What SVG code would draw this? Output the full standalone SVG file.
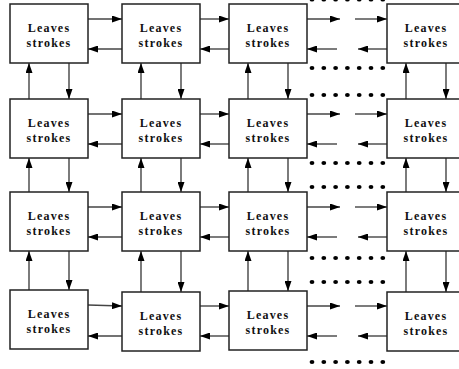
<svg xmlns="http://www.w3.org/2000/svg" width="459" height="369" viewBox="0 0 459 369">
<defs>
<style>
.box rect{fill:#fff;stroke:#222;stroke-width:1.5}
.box text{font-family:"Liberation Serif","Times New Roman",serif;font-weight:bold;font-size:12px;letter-spacing:1.2px;text-anchor:middle;fill:#111}
.conn path{stroke:#444;stroke-width:1.4;fill:none;marker-end:url(#ah)}
.dots ellipse{fill:#000}
</style>
<marker id="ah" markerUnits="userSpaceOnUse" markerWidth="10" markerHeight="7" refX="10" refY="3.5" orient="auto">
<path d="M0,0 L10,3.5 L0,7 z" fill="#000"/>
</marker>
</defs>
<rect width="459" height="369" fill="#fff"/>
<g class="conn" id="connectors">
<path d="M88,19 H122"/><path d="M122,49 H88"/>
<path d="M200,19 H229"/><path d="M229,49 H200"/>
<path d="M307,19 H340"/><path d="M355,19 H387"/><path d="M337,49 H307"/><path d="M387,49 H358"/>
<path d="M88,114 H122"/><path d="M122,144 H88"/>
<path d="M200,114 H229"/><path d="M229,144 H200"/>
<path d="M307,114 H340"/><path d="M355,114 H387"/><path d="M337,144 H307"/><path d="M387,144 H358"/>
<path d="M88,207 H122"/><path d="M122,237 H88"/>
<path d="M200,207 H229"/><path d="M229,237 H200"/>
<path d="M307,207 H340"/><path d="M355,207 H387"/><path d="M337,237 H307"/><path d="M387,237 H358"/>
<path d="M88,305 L122,306"/><path d="M122,336 H88"/>
<path d="M200,306 H229"/><path d="M229,336 H200"/>
<path d="M307,306 H340"/><path d="M355,306 H387"/><path d="M337,336 H307"/><path d="M387,336 H358"/>
<path d="M29,99 V63"/><path d="M69,63 V99"/>
<path d="M141,99 V63"/><path d="M181,63 V99"/>
<path d="M248,99 V63"/><path d="M288,63 V99"/>
<path d="M406,99 V63"/><path d="M446,63 V99"/>
<path d="M29,192 V158"/><path d="M69,158 V192"/>
<path d="M141,192 V158"/><path d="M181,158 V192"/>
<path d="M248,192 V158"/><path d="M288,158 V192"/>
<path d="M406,192 V158"/><path d="M446,158 V192"/>
<path d="M29,290 V251"/><path d="M69,251 V290"/>
<path d="M141,292 V251"/><path d="M181,251 V292"/>
<path d="M248,291 V251"/><path d="M288,251 V291"/>
<path d="M406,292 V251"/><path d="M446,251 V292"/>
</g>
<g class="dots" id="dots">
<g id="d0" transform="translate(0,-0.5)"><ellipse cx="312" cy="0" rx="2.4" ry="2"/><ellipse cx="323.8" cy="0" rx="2.4" ry="2"/><ellipse cx="335.6" cy="0" rx="2.4" ry="2"/><ellipse cx="347.4" cy="0" rx="2.4" ry="2"/><ellipse cx="359.2" cy="0" rx="2.4" ry="2"/><ellipse cx="371" cy="0" rx="2.4" ry="2"/><ellipse cx="382.8" cy="0" rx="2.4" ry="2"/></g>
<use href="#d0" transform="translate(0,68.5)"/>
<use href="#d0" transform="translate(0,95.5)"/>
<use href="#d0" transform="translate(0,163.5)"/>
<use href="#d0" transform="translate(0,187.5)"/>
<use href="#d0" transform="translate(0,258.5)"/>
<use href="#d0" transform="translate(0,282.5)"/>
<use href="#d0" transform="translate(0,362.5)"/>
</g>
<g class="box" id="n11"><rect x="10" y="4" width="78" height="59"/><text x="49" y="32">Leaves</text><text x="49" y="47">strokes</text></g>
<g class="box" id="n12"><rect x="122" y="4" width="78" height="59"/><text x="161" y="32">Leaves</text><text x="161" y="47">strokes</text></g>
<g class="box" id="n13"><rect x="229" y="4" width="78" height="59"/><text x="268" y="32">Leaves</text><text x="268" y="47">strokes</text></g>
<g class="box" id="n14"><rect x="387" y="4" width="78" height="59"/><text x="426" y="32">Leaves</text><text x="426" y="47">strokes</text></g>
<g class="box" id="n21"><rect x="10" y="99" width="78" height="59"/><text x="49" y="127">Leaves</text><text x="49" y="142">strokes</text></g>
<g class="box" id="n22"><rect x="122" y="99" width="78" height="59"/><text x="161" y="127">Leaves</text><text x="161" y="142">strokes</text></g>
<g class="box" id="n23"><rect x="229" y="99" width="78" height="59"/><text x="268" y="127">Leaves</text><text x="268" y="142">strokes</text></g>
<g class="box" id="n24"><rect x="387" y="99" width="78" height="59"/><text x="426" y="127">Leaves</text><text x="426" y="142">strokes</text></g>
<g class="box" id="n31"><rect x="10" y="192" width="78" height="59"/><text x="49" y="220">Leaves</text><text x="49" y="235">strokes</text></g>
<g class="box" id="n32"><rect x="122" y="192" width="78" height="59"/><text x="161" y="220">Leaves</text><text x="161" y="235">strokes</text></g>
<g class="box" id="n33"><rect x="229" y="192" width="78" height="59"/><text x="268" y="220">Leaves</text><text x="268" y="235">strokes</text></g>
<g class="box" id="n34"><rect x="387" y="192" width="78" height="59"/><text x="426" y="220">Leaves</text><text x="426" y="235">strokes</text></g>
<g class="box" id="n41"><rect x="10" y="290" width="78" height="59"/><text x="49" y="318">Leaves</text><text x="49" y="333">strokes</text></g>
<g class="box" id="n42"><rect x="122" y="292" width="78" height="59"/><text x="161" y="320">Leaves</text><text x="161" y="335">strokes</text></g>
<g class="box" id="n43"><rect x="229" y="291" width="78" height="59"/><text x="268" y="319">Leaves</text><text x="268" y="334">strokes</text></g>
<g class="box" id="n44"><rect x="387" y="292" width="78" height="59"/><text x="426" y="320">Leaves</text><text x="426" y="335">strokes</text></g>
</svg>
